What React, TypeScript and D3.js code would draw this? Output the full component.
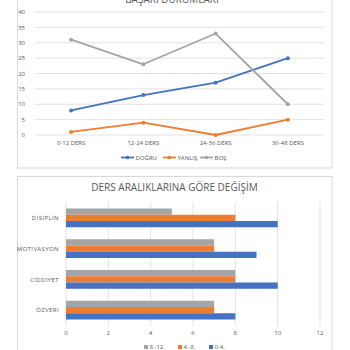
import React from "react";
import * as d3 from "d3";

const lineCategories = ["0-12 DERS", "12-24 DERS", "24-36 DERS", "36-48 DERS"];
const dogru = [8, 13, 17, 25];
const yanlis = [1, 4, 0, 5];
const bos = [31, 23, 33, 10];
const lineTicks = [0, 5, 10, 15, 20, 25, 30, 35, 40];

const barCategories = ["DİSİPLİN", "MOTİVASYON", "CİDDİYET", "ÖZVERİ"];
const s0_4 = [10, 9, 10, 8];
const s4_8 = [8, 7, 8, 7];
const s8_12 = [5, 7, 8, 7];
const barTicks = [0, 2, 4, 6, 8, 10, 12];

const BLUE = "#4472C4";
const ORANGE = "#ED7D31";
const GRAY = "#A5A5A5";
const FONT = "'Open Sans', 'Noto Sans', sans-serif";
const TXT = "#595959";

export default function App() {
  // top line chart
  const x1 = d3.scaleBand<string>().domain(lineCategories).range([35, 324]);
  const y1 = d3.scaleLinear().domain([0, 40]).range([135, 12]);
  const lineGen = d3
    .line<number>()
    .x((_, i) => (x1(lineCategories[i]) as number) + x1.bandwidth() / 2)
    .y((d) => y1(d));
  const lineSeries = [
    { name: "DOĞRU", data: dogru, color: BLUE },
    { name: "YANLIŞ", data: yanlis, color: ORANGE },
    { name: "BOŞ", data: bos, color: GRAY },
  ];

  // bottom bar chart
  const y2 = d3.scaleBand<string>().domain(barCategories).range([202.5, 325.5]).paddingInner(0.39).paddingOuter(0.195);
  const x2 = d3.scaleLinear().domain([0, 12]).range([66, 320]);
  const barSeries = [
    { name: "8.-12.", data: s8_12, color: GRAY },
    { name: "4.-8.", data: s4_8, color: ORANGE },
    { name: "0-4.", data: s0_4, color: BLUE },
  ];
  const inner = d3.scaleBand<string>().domain(barSeries.map((s) => s.name)).range([0, y2.bandwidth()]);

  const legend1X = [121, 163, 200];
  const legend2X = [144, 178, 209];

  return (
    <svg width={350} height={350} style={{ position: "absolute", left: 0, top: 0, fontFamily: FONT }}>
      <rect x={0} y={0} width={350} height={350} fill="#fff" />
      {/* top chart box */}
      <rect x={17.5} y={-20} width={314.5} height={188} fill="#fff" stroke="#D9D9D9" strokeWidth={1} />
      <text x={172} y={2.5} textAnchor="middle" fontSize={10} fill={TXT}>
        BAŞARI DURUMLARI
      </text>
      {lineTicks.map((t) => (
        <g key={t}>
          <line x1={35} x2={324} y1={y1(t)} y2={y1(t)} stroke="#D9D9D9" strokeWidth={0.75} />
          <text x={25} y={y1(t) + 2.2} textAnchor="end" fontSize={6} fill={TXT}>
            {t}
          </text>
        </g>
      ))}
      {lineCategories.map((c) => (
        <text key={c} x={(x1(c) as number) + x1.bandwidth() / 2} y={145} textAnchor="middle" fontSize={6} fill={TXT}>
          {c}
        </text>
      ))}
      {lineSeries.map((s) => (
        <g key={s.name}>
          <path d={lineGen(s.data) as string} fill="none" stroke={s.color} strokeWidth={1.8} strokeLinejoin="round" />
          {s.data.map((v, i) => (
            <circle
              key={i}
              cx={(x1(lineCategories[i]) as number) + x1.bandwidth() / 2}
              cy={y1(v)}
              r={2}
              fill={s.color}
            />
          ))}
        </g>
      ))}
      {lineSeries.map((s, i) => (
        <g key={s.name}>
          <line x1={legend1X[i]} x2={legend1X[i] + 13} y1={157.5} y2={157.5} stroke={s.color} strokeWidth={1.8} />
          <circle cx={legend1X[i] + 6.5} cy={157.5} r={1.8} fill={s.color} />
          <text x={legend1X[i] + 14.5} y={159.7} fontSize={6} fill={TXT}>
            {s.name}
          </text>
        </g>
      ))}

      {/* bottom chart box */}
      <rect x={17.5} y={176.5} width={314.5} height={190} fill="#fff" stroke="#D9D9D9" strokeWidth={1} />
      <text x={174.5} y={191} textAnchor="middle" fontSize={10} fill={TXT}>
        DERS ARALIKLARINA GÖRE DEĞİŞİM
      </text>
      {barTicks.map((t) => (
        <g key={t}>
          <line x1={x2(t)} x2={x2(t)} y1={202} y2={326} stroke="#D9D9D9" strokeWidth={0.75} />
          <text x={x2(t)} y={335} textAnchor="middle" fontSize={6} fill={TXT}>
            {t}
          </text>
        </g>
      ))}
      {barCategories.map((c, ci) => (
        <g key={c}>
          {barSeries.map((s) => (
            <rect
              key={s.name}
              x={x2(0)}
              y={(y2(c) as number) + (inner(s.name) as number)}
              width={x2(s.data[ci]) - x2(0)}
              height={inner.bandwidth()}
              fill={s.color}
            />
          ))}
          <text x={59} y={(y2(c) as number) + y2.bandwidth() / 2 + 2.2} textAnchor="end" fontSize={6} fill={TXT} letterSpacing={0.4}>
            {c}
          </text>
        </g>
      ))}
      {barSeries.map((s, i) => (
        <g key={s.name}>
          <rect x={legend2X[i]} y={345} width={4} height={4} fill={s.color} />
          <text x={legend2X[i] + 5.5} y={349.3} fontSize={6} fill={TXT}>
            {s.name}
          </text>
        </g>
      ))}
    </svg>
  );
}
